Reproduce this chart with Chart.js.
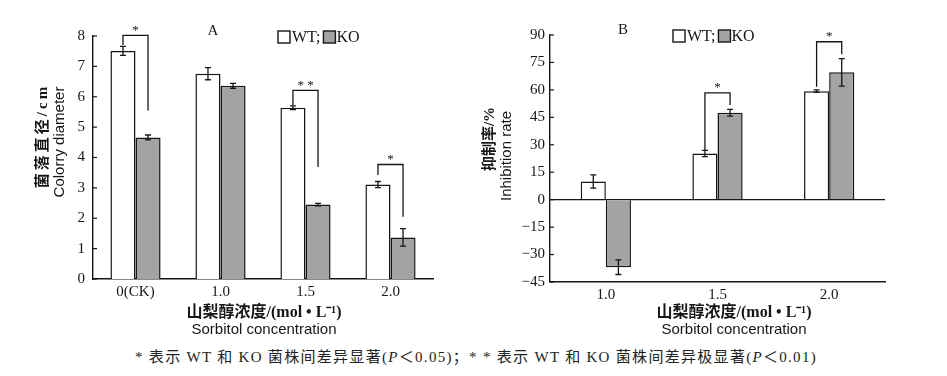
<!DOCTYPE html>
<html>
<head>
<meta charset="utf-8">
<script src="https://cdn.jsdelivr.net/npm/chart.js@4/dist/chart.umd.min.js"></script>
<style>
  html, body { margin: 0; padding: 0; background: #fff; }
  #wrap { position: relative; width: 947px; height: 376px; overflow: hidden; }
  #chartA { position: absolute; left: 0; top: 0; }
  #chartB { position: absolute; left: 470px; top: 0; }
  #note {
    position: absolute; left: 135px; top: 345px; white-space: nowrap;
    font: 15px 'Liberation Serif', 'Noto Sans CJK SC', serif; color: #222;
    letter-spacing: 1.3px;
  }
</style>
</head>
<body>
<div id="wrap">
  <canvas id="chartA" width="470" height="345"></canvas>
  <canvas id="chartB" width="477" height="345"></canvas>
  <div id="note">* 表示 WT 和 KO 菌株间差异显著(<i>P</i>＜0.05)；* * 表示 WT 和 KO 菌株间差异极显著(<i>P</i>＜0.01)</div>
</div>
<script>
(function() {
  'use strict';

  // ---- data: panel A (colony diameter, cm)
  var CATS_A   = ['0(CK)', '1.0', '1.5', '2.0'];
  var WT_A     = [7.51, 6.76, 5.64, 3.11];
  var WT_A_ERR = [0.15, 0.20, 0.06, 0.10];
  var KO_A     = [4.66, 6.36, 2.45, 1.37];
  var KO_A_ERR = [0.08, 0.08, 0.04, 0.29];
  // [category, bracket top, left leg end, right leg end, mark]
  var SIG_A    = [[0, 8.02, 7.70, 5.55, '*'], [2, 6.21, 5.72, 3.69, '**'], [3, 3.77, 3.42, 2.05, '*']];

  // ---- data: panel B (inhibition rate, %)
  var CATS_B   = ['1.0', '1.5', '2.0'];
  var WT_B     = [9.9, 25.2, 59.3];
  var WT_B_ERR = [3.6, 1.7, 0.7];
  var KO_B     = [-36.9, 47.5, 69.6];
  var KO_B_ERR = [4.0, 1.8, 7.5];
  var SIG_B    = [[1, 58.4, 27.0, 51.7, '*'], [2, 86.3, 61.7, 79.5, '*']];

  var INK   = '#161616';
  var GRAY  = '#a3a3a3';
  var SERIF = "'Liberation Serif', 'DejaVu Serif', serif";
  var SANS  = "'Liberation Sans', Arial, sans-serif";
  var CJK   = "'Liberation Serif', 'Noto Sans CJK SC', serif";

  function rotText(ctx, text, x, y, font, spacing) {
    ctx.save();
    ctx.translate(x, y);
    ctx.rotate(-Math.PI / 2);
    ctx.font = font;
    ctx.letterSpacing = spacing + 'px';
    ctx.fillText(text, 0, 0);
    ctx.restore();
  }

  // error bars, significance brackets, inward ticks, legend, titles
  var decor = {
    id: 'decor',
    afterDatasetsDraw: function(chart) {
      var o = chart.options.plugins.decor;
      var ctx = chart.ctx, y = chart.scales.y, area = chart.chartArea;
      ctx.save();
      ctx.strokeStyle = INK;
      ctx.lineWidth = 1.3;

      // error bars
      chart.data.datasets.forEach(function(ds, di) {
        var meta = chart.getDatasetMeta(di);
        meta.data.forEach(function(bar, i) {
          var v = ds.data[i], e = ds.err[i];
          var y1 = y.getPixelForValue(v + e), y2 = y.getPixelForValue(v - e);
          ctx.beginPath();
          ctx.moveTo(bar.x, y1); ctx.lineTo(bar.x, y2);
          ctx.moveTo(bar.x - 3, y1); ctx.lineTo(bar.x + 3, y1);
          ctx.moveTo(bar.x - 3, y2); ctx.lineTo(bar.x + 3, y2);
          ctx.stroke();
        });
      });

      // significance brackets
      var m0 = chart.getDatasetMeta(0), m1 = chart.getDatasetMeta(1);
      o.sig.forEach(function(s) {
        var xl = m0.data[s[0]].x, xr = m1.data[s[0]].x;
        var yt = y.getPixelForValue(s[1]);
        ctx.beginPath();
        ctx.moveTo(xl, y.getPixelForValue(s[2]));
        ctx.lineTo(xl, yt); ctx.lineTo(xr, yt);
        ctx.lineTo(xr, y.getPixelForValue(s[3]));
        ctx.stroke();
        ctx.fillStyle = INK;
        ctx.font = '13px ' + SERIF;
        ctx.textAlign = 'center';
        ctx.textBaseline = 'middle';
        ctx.fillText(s[4].split('').join(' '), (xl + xr) / 2, yt - 5);
      });

      // inward tick marks on the value axis
      ctx.lineWidth = 1.2;
      y.ticks.forEach(function(t, i) {
        var py = y.getPixelForTick(i);
        ctx.beginPath();
        ctx.moveTo(area.left, py); ctx.lineTo(area.left + 4, py);
        ctx.stroke();
      });

      // panel letter
      ctx.fillStyle = INK;
      ctx.textBaseline = 'middle';
      ctx.textAlign = 'center';
      ctx.font = '15px ' + SERIF;
      ctx.fillText(o.letter[0], o.letter[1], o.letter[2]);

      // legend
      var lx = o.legend[0], ly = o.legend[1];
      ctx.textAlign = 'left';
      ctx.font = '16px ' + SERIF;
      ctx.lineWidth = 1.4;
      ctx.fillStyle = '#fff';
      ctx.fillRect(lx, ly - 6, 12, 12); ctx.strokeRect(lx, ly - 6, 12, 12);
      ctx.fillStyle = INK;
      ctx.fillText('WT;', lx + 14, ly + 1);
      var kx = lx + 14 + ctx.measureText('WT;').width + 3;
      ctx.fillStyle = GRAY;
      ctx.fillRect(kx, ly - 6, 12, 12); ctx.strokeRect(kx, ly - 6, 12, 12);
      ctx.fillStyle = INK;
      ctx.fillText('KO', kx + 13, ly + 1);

      // axis titles
      var cx = o.xTitleX;
      ctx.textAlign = 'center';
      ctx.font = 'bold 16px ' + CJK;
      ctx.fillText('山梨醇浓度/(mol • L⁻¹)', cx, 313);
      ctx.font = '15px ' + SANS;
      ctx.fillText('Sorbitol concentration', cx, 330);

      var t = o.yTitle;
      rotText(ctx, t[0].text, t[0].x, t[0].y, 'bold 15px ' + CJK, t[0].sp);
      rotText(ctx, t[1].text, t[1].x, t[1].y, '15px ' + SANS, 0);

      ctx.restore();
    }
  };

  function makeChart(id, cats, wt, wtErr, ko, koErr, yOpts, extra) {
    return new Chart(document.getElementById(id), {
      type: 'bar',
      data: {
        labels: cats,
        datasets: [
          { label: 'WT', data: wt, err: wtErr, backgroundColor: '#fff', borderColor: INK,
            borderWidth: 1.5, categoryPercentage: extra.catPct, barPercentage: 1.0 },
          { label: 'KO', data: ko, err: koErr, backgroundColor: GRAY, borderColor: INK,
            borderWidth: 1.5, categoryPercentage: extra.catPct, barPercentage: 1.0 }
        ]
      },
      options: {
        responsive: false,
        animation: false,
        layout: { padding: extra.padding },
        plugins: {
          legend: { display: false },
          tooltip: { enabled: false },
          decor: extra.decor
        },
        scales: {
          x: {
            grid: { display: false, drawTicks: false },
            border: { display: true, color: INK, width: 1.4 },
            ticks: { color: INK, font: { family: SERIF, size: 15 }, padding: 4 },
            afterFit: function(s) { s.height = extra.xHeight; }
          },
          y: yOpts
        }
      },
      plugins: [decor]
    });
  }

  // Panel A
  makeChart('chartA', CATS_A, WT_A, WT_A_ERR, KO_A, KO_A_ERR, {
    min: 0, max: 8,
    grid: { display: false, drawTicks: false },
    border: { display: true, color: INK, width: 1.4 },
    ticks: { stepSize: 1, color: INK, font: { family: SERIF, size: 15 }, padding: 8 },
    afterFit: function(s) { s.width = 93; }
  }, {
    catPct: 0.59,
    padding: { left: 0, right: 37, top: 36, bottom: 0 },
    xHeight: 66,
    decor: {
      sig: SIG_A,
      letter: ['A', 213, 31],
      legend: [278, 37],
      xTitleX: 264,
      yTitle: [
        { text: '菌落直径/cm', x: 43, y: 136, sp: 3 },
        { text: 'Colorry diameter', x: 60, y: 142 }
      ]
    }
  });

  // Panel B
  makeChart('chartB', CATS_B, WT_B, WT_B_ERR, KO_B, KO_B_ERR, {
    min: -45, max: 90,
    grid: {
      drawTicks: false,
      color: function(c) { return c.tick && c.tick.value === 0 ? INK : 'rgba(0,0,0,0)'; },
      lineWidth: 1.3
    },
    border: { display: true, color: INK, width: 1.4 },
    ticks: {
      stepSize: 15, color: INK, font: { family: SERIF, size: 15 }, padding: 5,
      callback: function(v) { return v < 0 ? '\u2212' + Math.abs(v) : v; }
    },
    afterFit: function(s) { s.width = 80; }
  }, {
    catPct: 0.45,
    padding: { left: 0, right: 62, top: 35, bottom: 0 },
    xHeight: 63,
    decor: {
      sig: SIG_B,
      letter: ['B', 153, 30],
      legend: [203, 36],
      xTitleX: 264,
      yTitle: [
        { text: '抑制率/%', x: 20, y: 139, sp: 0 },
        { text: 'Inhibition rate', x: 37, y: 156 }
      ]
    }
  });
})();
</script>
</body>
</html>
